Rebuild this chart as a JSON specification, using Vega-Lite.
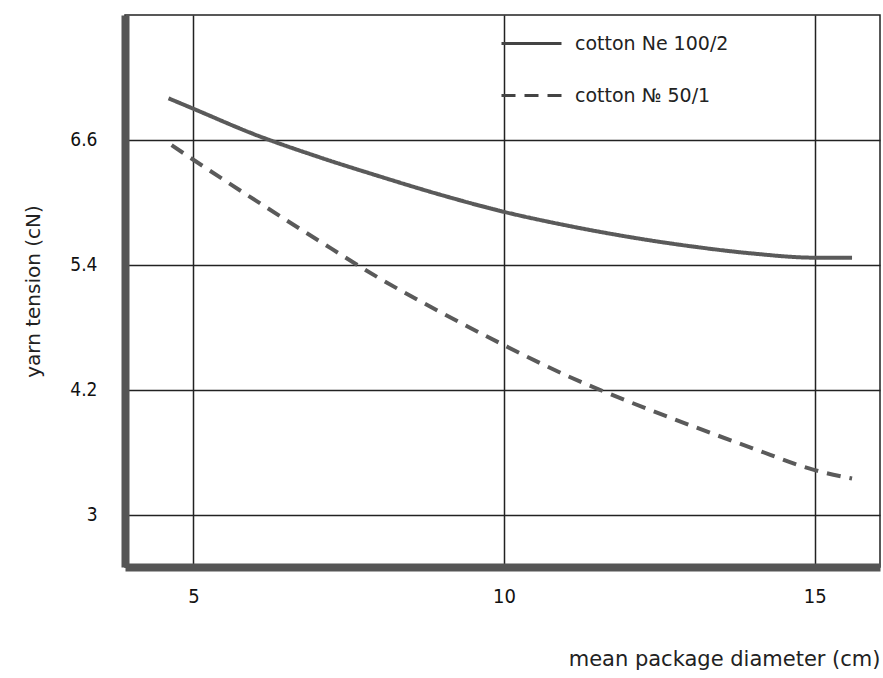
{
  "$schema": "https://vega.github.io/schema/vega-lite/v6.json",
  "autosize": "none",
  "width": 755,
  "height": 552,
  "padding": {"left": 125, "top": 15, "right": 3, "bottom": 111},
  "background": "white",
  "config": {
    "view": {"stroke": "#222", "strokeWidth": 1.5},
    "font": "DejaVu Sans"
  },
  "data": {
    "values": [
      {"d": 4.6, "t": 7.0, "s": "cotton Ne 100/2"},
      {"d": 5, "t": 6.9, "s": "cotton Ne 100/2"},
      {"d": 6, "t": 6.65, "s": "cotton Ne 100/2"},
      {"d": 7, "t": 6.44, "s": "cotton Ne 100/2"},
      {"d": 8, "t": 6.25, "s": "cotton Ne 100/2"},
      {"d": 9, "t": 6.07, "s": "cotton Ne 100/2"},
      {"d": 10, "t": 5.91, "s": "cotton Ne 100/2"},
      {"d": 11, "t": 5.78, "s": "cotton Ne 100/2"},
      {"d": 12, "t": 5.67, "s": "cotton Ne 100/2"},
      {"d": 13, "t": 5.58, "s": "cotton Ne 100/2"},
      {"d": 14, "t": 5.51, "s": "cotton Ne 100/2"},
      {"d": 15, "t": 5.47, "s": "cotton Ne 100/2"},
      {"d": 15.6, "t": 5.47, "s": "cotton Ne 100/2"},
      {"d": 4.65, "t": 6.55, "s": "cotton № 50/1"},
      {"d": 5, "t": 6.41, "s": "cotton № 50/1"},
      {"d": 6, "t": 6.02, "s": "cotton № 50/1"},
      {"d": 7, "t": 5.64, "s": "cotton № 50/1"},
      {"d": 8, "t": 5.27, "s": "cotton № 50/1"},
      {"d": 9, "t": 4.94, "s": "cotton № 50/1"},
      {"d": 10, "t": 4.63, "s": "cotton № 50/1"},
      {"d": 11, "t": 4.34, "s": "cotton № 50/1"},
      {"d": 12, "t": 4.09, "s": "cotton № 50/1"},
      {"d": 13, "t": 3.86, "s": "cotton № 50/1"},
      {"d": 14, "t": 3.64, "s": "cotton № 50/1"},
      {"d": 15, "t": 3.43, "s": "cotton № 50/1"},
      {"d": 15.6, "t": 3.35, "s": "cotton № 50/1"}
    ]
  },
  "mark": {"type": "line", "strokeWidth": 4, "interpolate": "monotone", "clip": true, "color": "#5a5a5a"},
  "encoding": {
    "x": {
      "field": "d",
      "type": "quantitative",
      "title": "mean package diameter (cm)",
      "scale": {"domain": [3.9, 16.05], "nice": false, "zero": false},
      "axis": {
        "values": [5, 10, 15],
        "grid": true,
        "gridColor": "#222",
        "gridWidth": 1.5,
        "gridOpacity": 1,
        "ticks": false,
        "domainColor": "#555",
        "domainWidth": 8,
        "labelFontSize": 20,
        "labelColor": "#111",
        "labelPadding": 19,
        "labelFont": "DejaVu Sans Condensed",
        "titleFontSize": 21,
        "titleFontWeight": "normal",
        "titleColor": "#222",
        "titleAnchor": "end",
        "titlePadding": 42
      }
    },
    "y": {
      "field": "t",
      "type": "quantitative",
      "title": "yarn tension (cN)",
      "scale": {"domain": [2.5, 7.8], "nice": false, "zero": false},
      "axis": {
        "values": [3, 4.2, 5.4, 6.6],
        "format": ".1~f",
        "grid": true,
        "gridColor": "#222",
        "gridWidth": 1.5,
        "gridOpacity": 1,
        "ticks": false,
        "domainColor": "#555",
        "domainWidth": 8,
        "labelFontSize": 19,
        "labelColor": "#111",
        "labelPadding": 28,
        "labelFont": "DejaVu Sans Condensed",
        "titleFontSize": 20,
        "titleFontWeight": "normal",
        "titleColor": "#222",
        "titlePadding": 26
      }
    },
    "strokeDash": {
      "field": "s",
      "type": "nominal",
      "title": null,
      "scale": {"range": [[1, 0], [14, 9]]},
      "legend": {
        "orient": "none",
        "legendX": 375,
        "legendY": -3,
        "symbolType": "stroke",
        "symbolSize": 3600,
        "symbolStrokeWidth": 3,
        "symbolStrokeColor": "#444",
        "labelFontSize": 19,
        "labelColor": "#222",
        "labelFont": "DejaVu Sans",
        "rowPadding": 10,
        "labelOffset": 12,
        "padding": 0
      }
    }
  }
}
